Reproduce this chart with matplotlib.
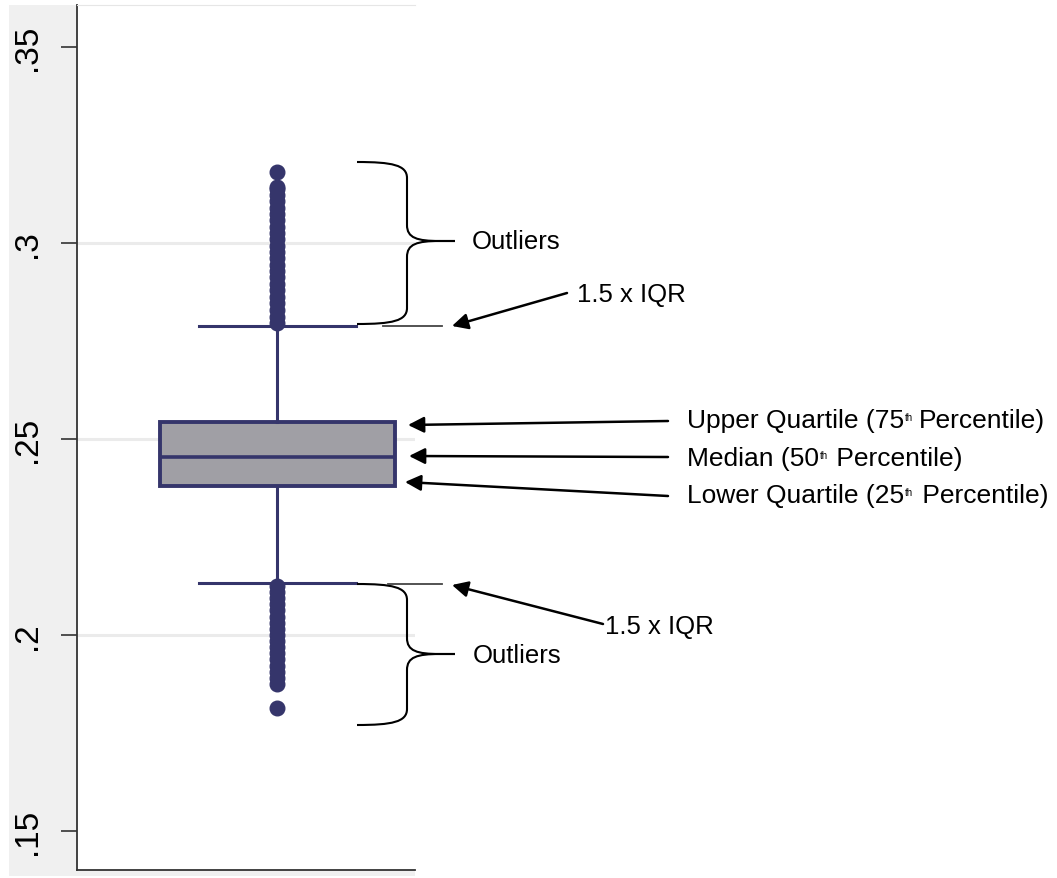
""" Annotated box plot: quartiles, 1.5 x IQR whiskers and outliers """
import matplotlib.pyplot as plt
from matplotlib.path import Path
from matplotlib.patches import PathPatch, Rectangle

plt.rcParams['font.family'] = ['Liberation Sans', 'DejaVu Sans']

# values
q1 = 0.2380
median = 0.2454
q3 = 0.2543
whisker_low = 0.2133
whisker_high = 0.2788
outliers_high = [0.2795, 0.2812, 0.2830, 0.2846, 0.2861, 0.2879, 0.2895,
                 0.2912, 0.2928, 0.2944, 0.2961, 0.2978, 0.2993, 0.3010,
                 0.3026, 0.3041, 0.3058, 0.3074, 0.3090, 0.3107, 0.3122,
                 0.3137, 0.3143, 0.3181]
outliers_low = [0.2125, 0.2110, 0.2094, 0.2079, 0.2063, 0.2047, 0.2031,
                0.2015, 0.2000, 0.1985, 0.1970, 0.1955, 0.1938, 0.1922,
                0.1905, 0.1890, 0.1875, 0.1814]

yticks = [0.15, 0.2, 0.25, 0.3, 0.35]
ytick_labels = ['.15', '.2', '.25', '.3', '.35']
grid_levels = [0.2, 0.25, 0.3]

navy = '#35356b'
W, H = 1057, 879

fig = plt.figure(figsize=(W / 100, H / 100), dpi=100, facecolor='white')

# grey graph region behind the plot region (Stata look)
fig.add_artist(Rectangle((9 / W, 1 - 877 / H), (415 - 9) / W, (877 - 6) / H,
                         transform=fig.transFigure, facecolor='#f0f0f0',
                         edgecolor='none', zorder=0))

ax = fig.add_axes([77 / W, 1 - 871 / H, 338 / W, 865 / H])
ax.set_facecolor('white')
ax.set_xlim(0, 1)
ax.set_ylim(0.14005, 0.36071)

for g in grid_levels:
    ax.axhline(g, color='#ebebeb', lw=2.2, zorder=0.5)

stats = [dict(med=median, q1=q1, q3=q3, whislo=whisker_low,
              whishi=whisker_high, fliers=outliers_low + outliers_high)]
ax.bxp(stats, positions=[0.592], widths=0.695, capwidths=0.464,
       patch_artist=True, manage_ticks=False,
       boxprops=dict(facecolor='#a09fa5', edgecolor=navy, linewidth=2.8),
       medianprops=dict(color=navy, linewidth=2.6),
       whiskerprops=dict(color=navy, linewidth=2.2),
       capprops=dict(color=navy, linewidth=2.2),
       flierprops=dict(marker='o', markerfacecolor=navy,
                       markeredgecolor=navy, markersize=10.5))

ax.set_yticks(yticks)
ax.set_yticklabels(ytick_labels)
ax.set_xticks([])
ax.tick_params(axis='y', labelrotation=90, labelsize=24, length=11.5,
               width=1.2, pad=13, color='#333333')
for lab in ax.get_yticklabels():
    lab.set_va('center')
ax.spines['right'].set_visible(False)
ax.spines['top'].set_color('#e6e6e6')
ax.spines['left'].set_color('#333333')
ax.spines['bottom'].set_color('#333333')
ax.spines['left'].set_linewidth(1.3)
ax.spines['bottom'].set_linewidth(1.3)

# overlay in figure pixels (origin top-left) for the explanatory notes
ann = fig.add_axes([0, 0, 1, 1], zorder=5)
ann.set_xlim(0, W)
ann.set_ylim(H, 0)
ann.set_axis_off()


def brace(x_end, x_mid, x_tip, y_top, y_tip, y_bot):
    c = x_end + 0.7 * (x_mid - x_end)
    verts = [(x_end, y_top),
             (c, y_top), (x_mid, y_top + 3), (x_mid, y_top + 16),
             (x_mid, y_tip - 16),
             (x_mid, y_tip - 3), (x_mid + 10, y_tip), (x_mid + 33, y_tip),
             (x_tip, y_tip),
             (x_mid + 33, y_tip),
             (x_mid + 10, y_tip), (x_mid, y_tip + 3), (x_mid, y_tip + 16),
             (x_mid, y_bot - 16),
             (x_mid, y_bot - 3), (c, y_bot), (x_end, y_bot)]
    codes = [Path.MOVETO,
             Path.CURVE4, Path.CURVE4, Path.CURVE4,
             Path.LINETO,
             Path.CURVE4, Path.CURVE4, Path.CURVE4,
             Path.LINETO,
             Path.LINETO,
             Path.CURVE4, Path.CURVE4, Path.CURVE4,
             Path.LINETO,
             Path.CURVE4, Path.CURVE4, Path.CURVE4]
    ann.add_patch(PathPatch(Path(verts, codes), fill=False, lw=1.5,
                            edgecolor='black'))


brace(357, 407, 455, 163, 242, 325)
brace(357, 407, 455, 585, 655, 726)

# short marks next to the whisker caps
ann.plot([383, 442], [327, 327], color='#444444', lw=1.3)
ann.plot([388, 442], [585, 585], color='#444444', lw=1.3)

arrow = dict(arrowstyle='-|>', mutation_scale=24, lw=1.8, color='black',
             shrinkA=0, shrinkB=0)
arrows = [((567, 294), (452, 327)),
          ((668, 422), (408, 426)),
          ((668, 458), (409, 457)),
          ((668, 497), (405, 483)),
          ((603, 625), (452, 586))]
for tail, tip in arrows:
    ann.annotate('', xy=tip, xytext=tail, arrowprops=arrow)

fs = 18.5
ann.text(472, 242, 'Outliers', fontsize=fs, va='center', ha='left')
ann.text(473, 656, 'Outliers', fontsize=fs, va='center', ha='left')
ann.text(577, 295, '1.5 x IQR', fontsize=fs, va='center', ha='left')
ann.text(605, 627, '1.5 x IQR', fontsize=fs, va='center', ha='left')

labels = [(421, 'Upper Quartile (75', 'Percentile)', 4),
          (459, 'Median (50', ' Percentile)', 1),
          (496, 'Lower Quartile (25', ' Percentile)', 1)]
for y, head, tail_text, gap in labels:
    t1 = ann.text(687, y, head, fontsize=19, va='center', ha='left')
    th = ann.annotate('th', xy=(1.005, 0.82), xycoords=t1, fontsize=7,
                      va='top', ha='left')
    ann.annotate(tail_text, xy=(1, 0), xycoords=(th, t1), fontsize=19,
                 va='bottom', ha='left', textcoords='offset points',
                 xytext=(gap, 0))

fig.savefig('out.png', dpi=100)
